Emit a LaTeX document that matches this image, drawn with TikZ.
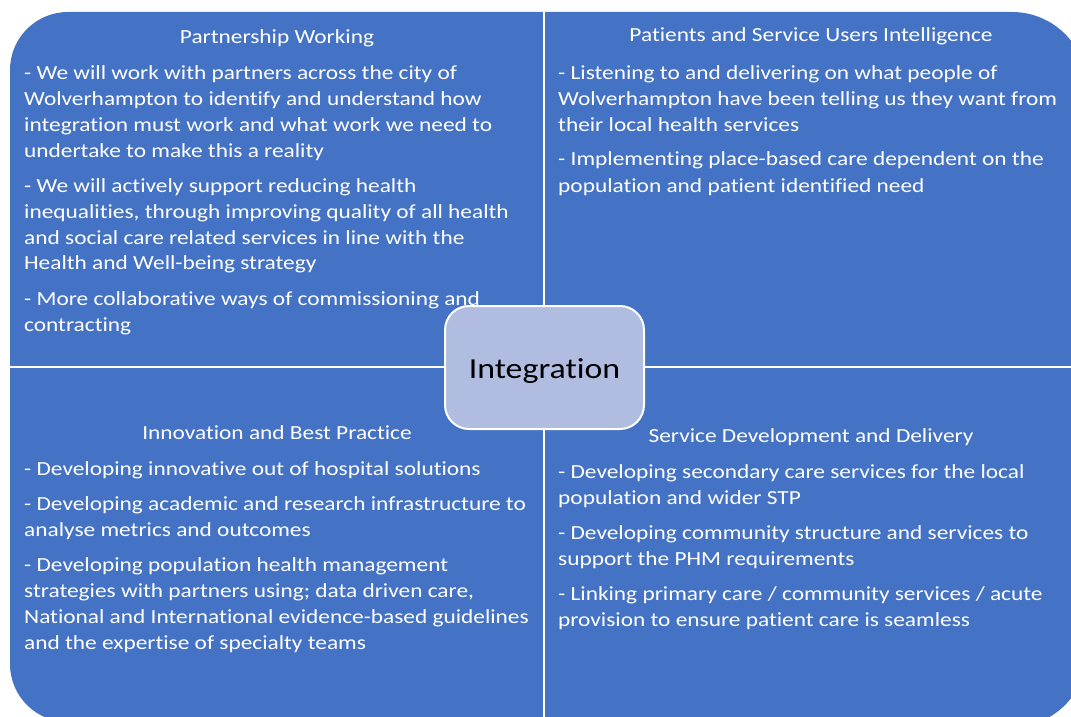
\documentclass[tikz,border=0pt]{standalone}
\usepackage{fontspec}
\setmainfont[FakeStretch=1.167, RawFeature=-liga]{Carlito}
\definecolor{quadblue}{HTML}{4472C4}
\definecolor{centfill}{HTML}{B0BCE0}
\tikzset{
  bodytext/.style={anchor=base west, inner sep=0pt, text=white, font=\fontsize{20}{26}\selectfont},
  titletext/.style={anchor=base, inner sep=0pt, text=white, font=\fontsize{20}{24}\selectfont},
  divider/.style={draw=white, line width=2pt},
}
\begin{document}
\begin{tikzpicture}[x=1pt,y=-1pt]
\useasboundingbox (0,0) rectangle (1071,717);
% quadrants
\begin{scope}
  \clip (10,12) rectangle (544,367);
  \fill[quadblue, rounded corners=58pt] (10,12) rectangle (900,800);
\end{scope}
\begin{scope}
  \clip (544,12) rectangle (1071,367);
  \fill[quadblue, rounded corners=75pt] (200,12) rectangle (1087,800);
\end{scope}
\begin{scope}
  \clip (10,367) rectangle (544,717);
  \fill[quadblue, rounded corners=58pt] (10,0) rectangle (900,722);
\end{scope}
\begin{scope}
  \clip (544,367) rectangle (1071,717);
  \fill[quadblue, rounded corners=75pt] (200,0) rectangle (1087,727);
\end{scope}
% dividers
\coordinate (vtop) at (544,12);
\coordinate (vbot) at (544,717);
\coordinate (hleft) at (10,367);
\coordinate (hright) at (1071,367);
\draw[divider] (vtop) -- (vbot);
\draw[divider] (hleft) -- (hright);
% titles
\node[titletext] (t1) at (277,44) {Partnership Working};
\node[titletext] (t2) at (811,42) {Patients and Service Users Intelligence};
\node[titletext] (t3) at (277,439) {Innovation and Best Practice};
\node[titletext] (t4) at (811,442) {Service Development and Delivery};
% bodies
\node[bodytext] (b1) at (24,79) {\parbox[t]{530pt}{\raggedright
- We will work with partners across the city of\\
Wolverhampton to identify and understand how\\
integration must work and what work we need to\\
undertake to make this a reality\\[9pt]
- We will actively support reducing health\\
inequalities, through improving quality of all health\\
and social care related services in line with the\\
Health and Well-being strategy\\[9pt]
- More collaborative ways of commissioning and\\
contracting}};
\node[bodytext] (b2) at (558,79) {\parbox[t]{520pt}{\raggedright
- Listening to and delivering on what people of\\
Wolverhampton have been telling us they want from\\
their local health services\\[9pt]
- Implementing place-based care dependent on the\\
population and patient identified need}};
\node[bodytext] (b3) at (24,475) {\parbox[t]{530pt}{\raggedright
- Developing innovative out of hospital solutions\\[9pt]
- Developing academic and research infrastructure to\\
analyse metrics and outcomes\\[9pt]
- Developing population health management\\
strategies with partners using; data driven care,\\
National and International evidence-based guidelines\\
and the expertise of specialty teams}};
\node[bodytext] (b4) at (558,478) {\parbox[t]{520pt}{\raggedright
- Developing secondary care services for the local\\
population and wider STP\\[9pt]
- Developing community structure and services to\\
support the PHM requirements\\[9pt]
- Linking primary care / community services / acute\\
provision to ensure patient care is seamless}};
% centre
\node[draw=white, line width=2pt, fill=centfill, rounded corners=24pt,
      minimum width=199pt, minimum height=123pt, inner sep=0pt,
      font=\fontsize{29}{34}\selectfont] (int) at (544.5,367.5) {\smash{\raisebox{-10.5pt}{Integration}}};
\end{tikzpicture}
\end{document}
